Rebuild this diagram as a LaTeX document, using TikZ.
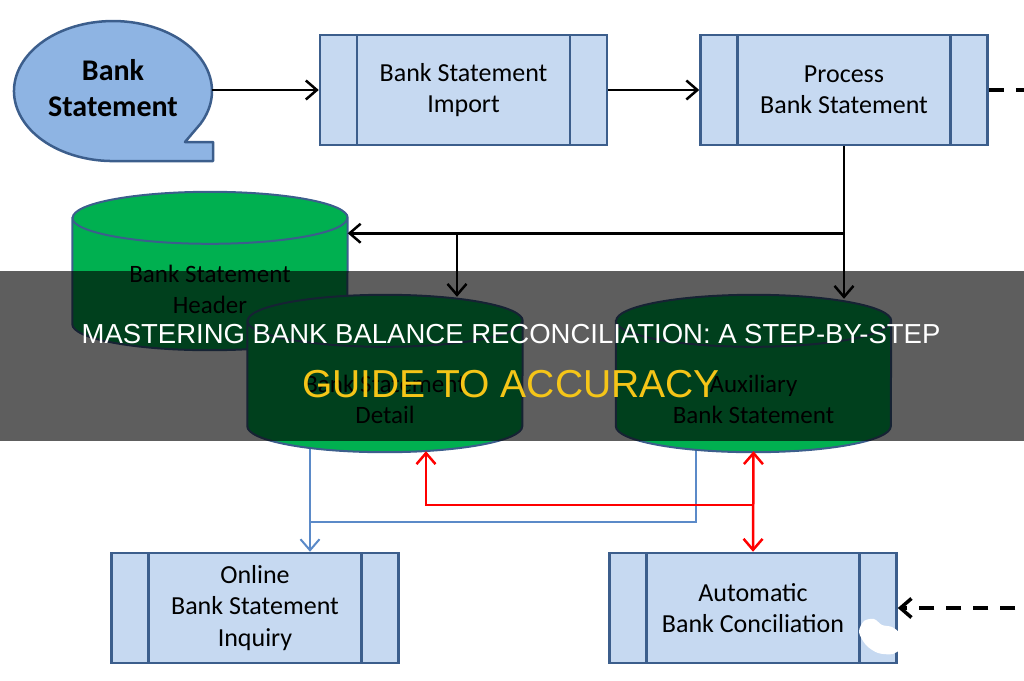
\documentclass[tikz,border=0pt]{standalone}
\usepackage{fontspec}
\setmainfont{Carlito}
\newfontfamily\bannerfont{Liberation Sans}
\usetikzlibrary{shapes.geometric, arrows.meta, backgrounds}

\definecolor{boxfill}{RGB}{198,217,241}
\definecolor{boxedge}{RGB}{60,94,140}
\definecolor{bubblefill}{RGB}{142,180,227}
\definecolor{storegreen}{RGB}{0,176,80}
\definecolor{feedblue}{RGB}{91,138,200}
\definecolor{checkred}{RGB}{255,0,0}
\definecolor{bannergold}{RGB}{245,197,24}

\begin{document}
\begin{tikzpicture}[x=1pt, y=-1pt, >={Straight Barb[length=11pt,width=19pt]},
    procbox/.style={draw=boxedge, line width=2.5pt, fill=boxfill,
      minimum width=287pt, minimum height=110pt, align=center,
      font=\fontsize{26}{31.5}\selectfont,
      path picture={
        \draw[boxedge, line width=2.5pt]
          ([xshift=37pt]path picture bounding box.north west) -- ([xshift=37pt]path picture bounding box.south west)
          ([xshift=-37pt]path picture bounding box.north east) -- ([xshift=-37pt]path picture bounding box.south east);}},
    store/.style={minimum width=275pt, minimum height=157pt, inner sep=0pt},
    storeline/.style={draw=boxedge, line width=2pt, fill=storegreen},
    storetext/.style={align=center, font=\fontsize{25}{31}\selectfont},
    flow/.style={->, line width=2.5pt},
    feed/.style={feedblue, line width=2pt},
    check/.style={checkred, line width=2.5pt},
    dashflow/.style={->, line width=3.5pt, dash pattern=on 15pt off 12pt}]
    \useasboundingbox (0,0) rectangle (1024,680);

    % speech bubble
    \draw[boxedge, line width=2.5pt, fill=bubblefill, line join=round]
        (200.4,123.9) arc[start angle=28, end angle=-270, x radius=99, y radius=70]
        -- (213,161) -- (213,142) -- (185,142) -- cycle;
    \node[ellipse, minimum width=198pt, minimum height=140pt, align=center,
        font=\bfseries\fontsize{30}{36}\selectfont] (bank) at (113,88) {Bank\\Statement};

    % process boxes
    \node[procbox] (imp) at (463.5,90) {Bank Statement\\Import};
    \node[procbox] (proc) at (844,90) {Process\\Bank Statement};
    \node[procbox] (online) at (255,608) {Online\\Bank Statement\\Inquiry};
    \node[procbox] (auto) at (753,608) {Automatic\\Bank Conciliation};

    % data stores
    \node[store, minimum height=158pt] (hdr) at (210,271) {};
    \path[storeline] ([yshift=-26pt]hdr.north west) -- ([yshift=26pt]hdr.south west)
        arc[start angle=180, end angle=0, x radius=137.5, y radius=26]
        -- ([yshift=-26pt]hdr.north east)
        arc[start angle=0, end angle=-180, x radius=137.5, y radius=26] -- cycle
        ([yshift=-26pt]hdr.north west) arc[start angle=180, end angle=0, x radius=137.5, y radius=26];
    \node[storetext] (hdrtxt) at ([yshift=-18pt]hdr.center) {Bank Statement\\Header};

    \node[store] (det) at (385,373.5) {};
    \path[storeline] ([yshift=-26pt]det.north west) -- ([yshift=26pt]det.south west)
        arc[start angle=180, end angle=0, x radius=137.5, y radius=26]
        -- ([yshift=-26pt]det.north east)
        arc[start angle=0, end angle=-180, x radius=137.5, y radius=26] -- cycle
        ([yshift=-26pt]det.north west) arc[start angle=180, end angle=0, x radius=137.5, y radius=26];
    \node[storetext] (dettxt) at ([yshift=-26pt]det.center) {Bank Statement\\Detail};

    \node[store] (aux) at (753.5,373.5) {};
    \path[storeline] ([yshift=-26pt]aux.north west) -- ([yshift=26pt]aux.south west)
        arc[start angle=180, end angle=0, x radius=137.5, y radius=26]
        -- ([yshift=-26pt]aux.north east)
        arc[start angle=0, end angle=-180, x radius=137.5, y radius=26] -- cycle
        ([yshift=-26pt]aux.north west) arc[start angle=180, end angle=0, x radius=137.5, y radius=26];
    \node[storetext] (auxtxt) at ([yshift=-26pt]aux.center) {Auxiliary\\Bank Statement};

    \coordinate (fork) at ([yshift=-87pt]proc.south);
    \coordinate (tee) at ([xshift=72pt]fork -| det.north);
    \coordinate (detout) at ([xshift=-75pt]det.center);
    \coordinate (auxout) at ([xshift=-58pt]aux.center);
    \coordinate (redx) at ([xshift=41pt]det.center);

    \draw[flow] (bank.east |- imp.west) -- (imp.west);
    \draw[flow] (imp.east) -- (proc.west);
    \draw[flow] (proc.south) -- ([yshift=-4pt]proc.south |- aux.north);
    \draw[flow] (fork) -- (fork -| hdr.east);
    \draw[flow] (tee) -- ([yshift=-2pt]tee |- det.north);
    \draw[dashflow] (proc.east) -- (proc.east -| 1026.5,0) |- (auto.east);

    \begin{scope}[on background layer]
        \draw[feed, ->] (detout) -- (detout |- online.north);
        \draw[feed] (auxout) |- (detout |- 0,522);
    \end{scope}
    \draw[check, ->] (aux.south |- 0,505) -| ([yshift=1pt]redx |- det.south);
    \draw[check, <->] ([yshift=1pt]aux.south) -- (auto.north);

    % smudge on the last box
    \fill[white] plot[smooth cycle] coordinates {(859,632) (864,621) (874,619) (882,625)
        (892,627) (900,634) (900,648) (893,654) (878,653) (866,645)};

    % title band
    \fill[black, opacity=0.63] (0,271) rectangle (1024,441);
    \node[anchor=base, text=white, font=\bannerfont\fontsize{27.5}{32}\selectfont] (head) at (511,343)
        {MASTERING BANK BALANCE RECONCILIATION: A STEP-BY-STEP};
    \node[anchor=base, text=bannergold, font=\bannerfont\fontsize{39}{46}\selectfont] (sub) at (511,397)
        {GUIDE TO ACCURACY};
\end{tikzpicture}
\end{document}
